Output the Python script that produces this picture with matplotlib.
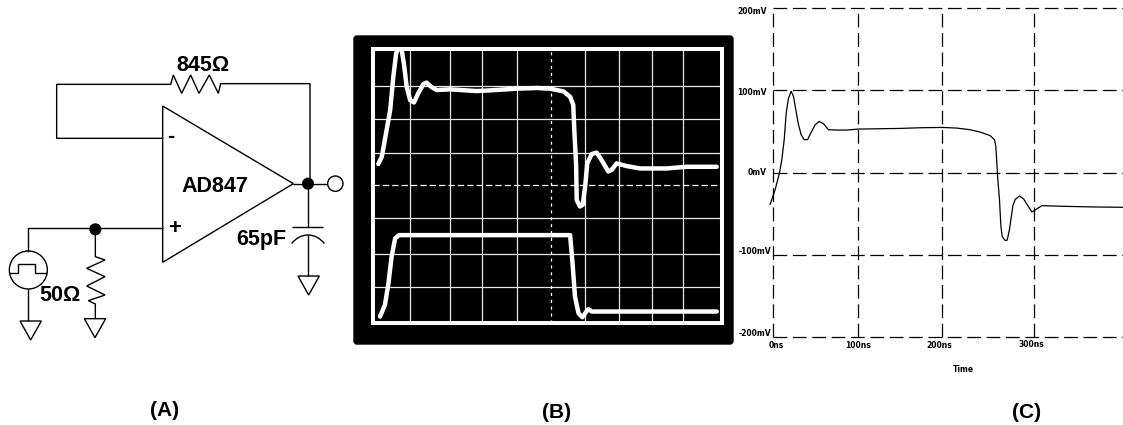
import matplotlib
matplotlib.use("Agg")
import matplotlib.pyplot as plt
from matplotlib.patches import Circle, FancyBboxPatch, Polygon, Arc
from matplotlib.transforms import ScaledTranslation

W, H = 1123, 425

# scope panel, in screen divisions
scope_grid_x = [1.07, 2.21, 3.13, 4.13, 6.08, 7.03, 7.97, 8.88]
scope_grid_y = [2.95, 1.96, 0.97, -0.98, -2.04, -3.02]
scope_center_x = 5.09
scope_center_y = 0
output_x = [0.16, 0.26, 0.38, 0.50, 0.59, 0.67, 0.74, 0.82, 0.90, 0.97, 1.07, 1.18, 1.30, 1.45, 1.54, 1.69,
            1.83, 2.21, 2.97, 3.35, 4.11, 4.69, 5.07, 5.45, 5.64, 5.73, 5.76, 5.81, 5.83, 5.92, 6.00,
            6.07, 6.13, 6.26, 6.40, 6.54, 6.73, 6.83, 6.97, 7.26, 7.64, 8.40, 8.97, 9.83]
output_y = [0.63, 0.85, 1.54, 2.24, 3.23, 3.92, 4.08, 4.08, 3.55, 2.93, 2.53, 2.46, 2.73, 3.01, 3.05, 2.91,
            2.83, 2.85, 2.80, 2.82, 2.87, 2.89, 2.87, 2.79, 2.63, 2.39, 1.64, 0.65, -0.44, -0.63, -0.58,
            -0.04, 0.65, 0.93, 0.97, 0.75, 0.41, 0.46, 0.65, 0.57, 0.50, 0.50, 0.55, 0.55]
input_x = [0.21, 0.35, 0.45, 0.54, 0.64, 0.75, 5.64, 5.71, 5.78, 5.88, 5.99, 6.07, 6.16, 6.26, 6.97, 9.83]
input_y = [-3.90, -3.55, -2.91, -2.12, -1.58, -1.48, -1.48, -2.32, -3.31, -3.80, -3.92, -3.80, -3.68,
           -3.75, -3.75, -3.75]

# simulation panel
sim_t = [-2.7, 3.1, 8, 10.7, 13.4, 15.7, 18.3, 21.4, 24.1, 26.7, 29.8, 32.8, 36.3, 40.1, 43.9, 48.9, 53.5,
         58.4, 64.1, 73.7, 85.1, 98.1, 123.3, 146.2, 169.1, 194.7, 211.1, 226.4, 237.9, 249.3, 254.3,
         255.8, 258.1, 260, 261.6, 263.1, 266.5, 268.8, 271.5, 275.3, 278, 282.9, 287.5, 293.2, 297.1,
         300.9, 308.5, 333.3, 367.7, 401.3]
sim_mv = [-38.7, -20.6, -0.4, 15.7, 39.9, 72.2, 90.3, 98.8, 92.3, 76.2, 58.1, 46, 39.9, 39.9, 48, 58.1, 62.1,
          59.3, 52, 51.6, 51.6, 52.8, 53.2, 53.6, 54.4, 54.8, 54, 52, 49.2, 44.8, 39.9,
          31.9, -8.5, -32.7, -64.9, -77.8, -82.7, -82.3, -69, -40.7, -32.7, -28.6, -31.9, -41.5, -48,
          -45.6, -40.3, -41.1, -41.9, -42.3]
sim_xticks = [0, 98, 194.5, 300]
sim_xlabels = ["0ns", "100ns", "200ns", "300ns"]
sim_yticks = [-200, -100, 0, 100, 200]
sim_ylabels = ["-200mV", "-100mV", "0mV", "100mV", "200mV"]

BOLD = {"family": "Liberation Sans", "weight": "bold"}


def px_axes(fig, left, top, right, bottom):
    return fig.add_axes([left / W, 1 - bottom / H, (right - left) / W, (bottom - top) / H])


def wire(ax, xs, ys):
    ax.plot(xs, ys, color="black", lw=1.0, solid_joinstyle="miter", solid_capstyle="butt")


def ground(ax, x, y):
    ax.add_patch(Polygon([(x - 32, y), (x + 32, y), (x, y + 57)], closed=True, fill=False, ec="black", lw=1.0))


def draw_schematic(fig):
    # coordinates here are 3x pixels of the schematic region
    ax = px_axes(fig, 0, 30, 350, 360)
    ax.set_xlim(0, 1050)
    ax.set_ylim(990, 0)
    ax.axis("off")

    ax.add_patch(Polygon([(488, 228), (880, 461), (488, 697)], closed=True, fill=False, ec="black", lw=1.0))
    wire(ax, [488, 170, 170, 512, 520, 545, 572, 597, 628, 655, 662, 930, 930],
         [325, 325, 163, 163, 135, 190, 135, 190, 135, 190, 161, 161, 461])
    wire(ax, [880, 985], [461, 461])
    wire(ax, [924, 924], [461, 590])
    wire(ax, [875, 970], [590, 590])
    ax.add_patch(Arc((924, 690), 130, 150, theta1=225, theta2=315, ec="black", lw=1.0))
    wire(ax, [924, 924], [615, 738])
    ground(ax, 926, 738)

    wire(ax, [488, 85, 85], [594, 594, 665])
    wire(ax, [85, 85], [777, 873])
    ground(ax, 92, 873)
    ax.add_patch(Circle((85, 720), 57, fill=False, ec="black", lw=1.0))
    wire(ax, [28, 55, 55, 105, 105, 140], [730, 730, 703, 703, 730, 730])

    wire(ax, [286, 286, 315, 260, 315, 260, 315, 265, 286, 286],
         [598, 680, 690, 715, 740, 768, 795, 812, 822, 866])
    ground(ax, 285, 866)

    ax.add_patch(Circle((924, 461), 16, color="black"))
    ax.add_patch(Circle((286, 598), 16, color="black"))
    ax.add_patch(Circle((1006, 461), 23, fc="white", ec="black", lw=1.0, zorder=3))

    ax.text(610, 107, "845Ω", fontsize=15.5, ha="center", va="center", **BOLD)
    ax.text(645, 470, "AD847", fontsize=15.5, ha="center", va="center", **BOLD)
    ax.text(785, 627, "65pF", fontsize=15.5, ha="center", va="center", **BOLD)
    ax.text(180, 797, "50Ω", fontsize=15.5, ha="center", va="center", **BOLD)
    ax.text(511, 318, "-", fontsize=15.5, ha="center", va="center", **BOLD)
    ax.text(525, 596, "+", fontsize=16, ha="center", va="center", **BOLD)


def draw_scope(fig, back):
    back.add_patch(FancyBboxPatch((356, 38), 375, 304, boxstyle="round,pad=2,rounding_size=3",
                                  fc="black", ec="black"))
    ax = px_axes(fig, 372.7, 49.3, 722, 323.3)
    ax.set_facecolor("black")
    ax.set_xlim(0, 9.98)
    ax.set_ylim(-4.10, 4.04)
    ax.set_xticks([])
    ax.set_yticks([])
    for s in ax.spines.values():
        s.set_color("white")
        s.set_linewidth(2.9)
    for x in scope_grid_x:
        ax.axvline(x, color="#e8e8e8", lw=0.9)
    for y in scope_grid_y:
        ax.axhline(y, color="#e8e8e8", lw=0.9)
    ax.axvline(scope_center_x, color="white", lw=0.9, ls=(0, (2.5, 3)))
    ax.axhline(scope_center_y, color="white", lw=0.9, ls=(0, (5, 2.5)))
    ax.plot(output_x, output_y, color="white", lw=3.2, solid_capstyle="round", solid_joinstyle="round")
    ax.plot(input_x, input_y, color="white", lw=3.2, solid_capstyle="round", solid_joinstyle="round")


def shift_labels(fig, labels, shifts):
    # the labels in the source sit a few pixels off their gridlines
    for lab, (dx, dy) in zip(labels, shifts):
        lab.set_transform(lab.get_transform() + ScaledTranslation(dx / 100, -dy / 100, fig.dpi_scale_trans))


def draw_sim(fig):
    ax = px_axes(fig, 772.5, 8, 1123, 337)
    ax.set_xlim(0, 401.5)
    ax.set_ylim(-200, 200)
    for s in ax.spines.values():
        s.set_visible(False)
    ax.set_xticks(sim_xticks, sim_xlabels)
    ax.set_yticks(sim_yticks, sim_ylabels)
    ax.tick_params(length=0, pad=1)
    for lab in ax.get_xticklabels() + ax.get_yticklabels():
        lab.set_fontfamily("DejaVu Sans")
        lab.set_fontweight("bold")
        lab.set_fontsize(5.5)
    ax.tick_params(axis="x", pad=3)
    shift_labels(fig, ax.get_xticklabels(), [(3.5, 0), (0, 0), (-3, 0), (-3, -1)])
    shift_labels(fig, ax.get_yticklabels(), [(0, -5), (0, -4), (-4, -1), (-4, 1), (-4, 2)])
    ax.grid(True, color="black", lw=0.9, ls=(0, (11, 4.5)))
    for line in ax.get_xgridlines() + ax.get_ygridlines():
        line.set_clip_on(False)
    ax.plot(sim_t, sim_mv, color="black", lw=0.9, clip_on=False)
    ax.set_xlabel("Time", fontsize=5.5, fontweight="bold", family="DejaVu Sans", labelpad=11, x=0.545)


def main():
    fig = plt.figure(figsize=(W / 100, H / 100), dpi=100)
    back = fig.add_axes([0, 0, 1, 1])
    back.set_xlim(0, W)
    back.set_ylim(H, 0)
    back.axis("off")

    draw_schematic(fig)
    draw_scope(fig, back)
    draw_sim(fig)

    back.text(165, 410, "(A)", fontsize=15, ha="center", va="center", **BOLD)
    back.text(557, 413, "(B)", fontsize=15, ha="center", va="center", **BOLD)
    back.text(1027, 412, "(C)", fontsize=15, ha="center", va="center", **BOLD)

    fig.savefig("out.png", dpi=100)
    plt.close(fig)


if __name__ == "__main__":
    main()
